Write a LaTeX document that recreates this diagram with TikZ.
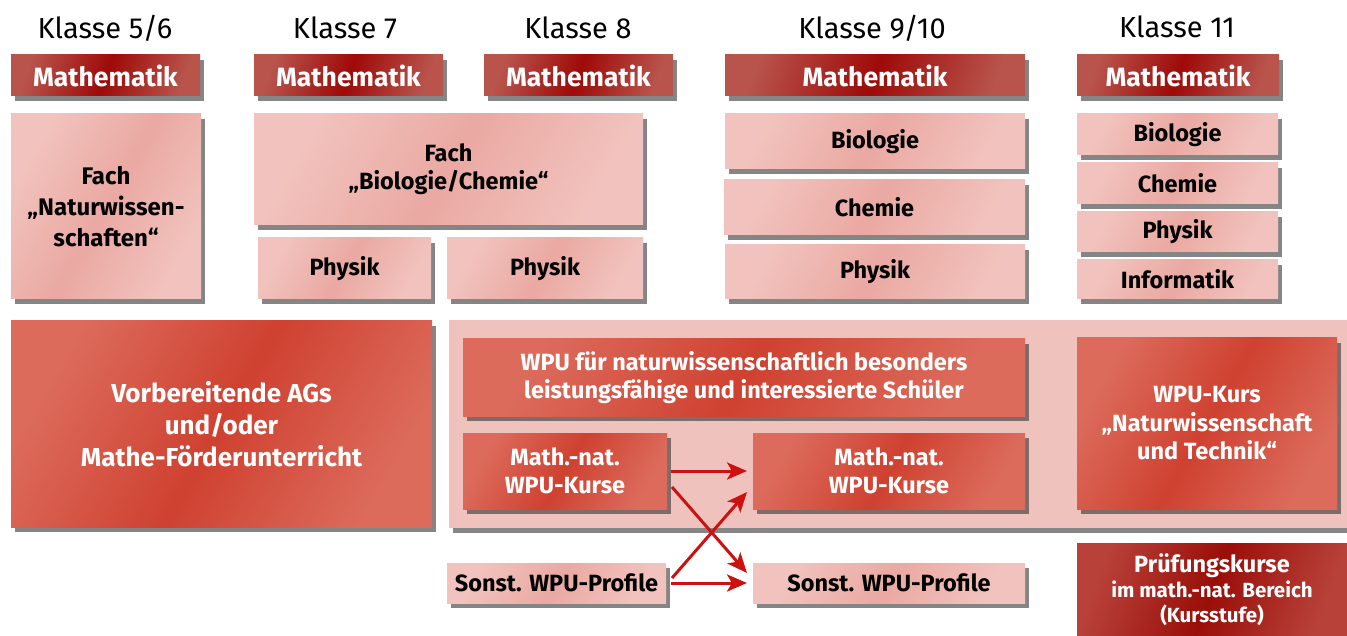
\documentclass[tikz,border=0pt]{standalone}
\usepackage{fontspec}
\setmainfont{Fira Sans}
\usetikzlibrary{shadows,arrows.meta}
\definecolor{mEdge}{HTML}{B8544C}
\definecolor{mMid}{HTML}{9E0A08}
\definecolor{pEdge}{HTML}{F2C3BE}
\definecolor{pMid}{HTML}{EAA9A2}
\definecolor{rEdge}{HTML}{DC6B5C}
\definecolor{rMid}{HTML}{CF4130}
\definecolor{bgPink}{HTML}{F0C2BD}
\definecolor{arrRed}{HTML}{CC1111}
\definecolor{dEdge}{HTML}{B8413A}
\definecolor{dMid}{HTML}{9A0E08}
\begin{document}
\begin{tikzpicture}[x=1pt,y=-1pt,
  head/.style={font=\fontsize{29}{32}\selectfont, inner sep=0pt},
  box/.style={rectangle, inner sep=0pt, outer sep=0pt, align=center,
    font=\bfseries\fontsize{23.5}{28}\selectfont,
    drop shadow={shadow xshift=4pt, shadow yshift=-5pt, fill=black!80, opacity=0.6}},
  mathbox/.style={box, left color=mEdge, right color=mEdge, middle color=mMid, shading angle=70,
    text=white, font=\bfseries\fontsize{26.5}{30}\selectfont, minimum height=41pt},
  pinkbox/.style={box, left color=pEdge, right color=pEdge, middle color=pMid, shading angle=60, text=black},
  redbox/.style={box, left color=rEdge, right color=rEdge, middle color=rMid, shading angle=60, text=white},
  darkbox/.style={box, left color=dEdge, right color=dEdge, middle color=dMid, shading angle=70, text=white},
  bgbox/.style={box, fill=bgPink},
  arr/.style={draw=arrRed, line width=3pt, -{Stealth[length=20pt,width=17pt,inset=5pt]}}
]
\useasboundingbox (0,0) rectangle (1347,636);

% headers
\node[head] (k56) at (105,28) {Klasse 5/6};
\node[head] (k7)  at (345,28) {Klasse 7};
\node[head] (k8)  at (578,28) {Klasse 8};
\node[head] (k910) at (872,28) {Klasse 9/10};
\node[head] (k11) at (1177,27) {Klasse 11};

% Mathematik
\node[mathbox, minimum width=189pt] (m1) at (105.5,75.5) {Mathematik};
\node[mathbox, minimum width=189pt] (m2) at (348.5,75.5) {Mathematik};
\node[mathbox, minimum width=189pt] (m3) at (578.5,75.5) {Mathematik};
\node[mathbox, minimum width=300pt] (m4) at (875,75.5) {Mathematik};
\node[mathbox, minimum width=202pt] (m5) at (1178,75.5) {Mathematik};

% row 2
\node[pinkbox, minimum width=190pt, minimum height=185pt, font=\bfseries\fontsize{24}{31}\selectfont] (nw) at (106,206.5) {Fach\\„Naturwissen-\\schaften“};
\node[pinkbox, minimum width=389pt, minimum height=111pt] (bc) at (448.5,169.5) {Fach\\„Biologie/Chemie“};
\node[pinkbox, minimum width=173pt, minimum height=61pt] (ph7) at (344.5,268.5) {Physik};
\node[pinkbox, minimum width=196pt, minimum height=61pt] (ph8) at (545,268.5) {Physik};
\node[pinkbox, minimum width=300pt, minimum height=55pt] (bio9) at (875,141.5) {Biologie};
\node[pinkbox, minimum width=301pt, minimum height=55pt] (ch9) at (874.5,207.5) {Chemie};
\node[pinkbox, minimum width=300pt, minimum height=54pt] (ph9) at (875,272) {Physik};
\node[pinkbox, minimum width=201pt, minimum height=41pt] (bio11) at (1177.5,134.5) {Biologie};
\node[pinkbox, minimum width=201pt, minimum height=41pt] (ch11) at (1177.5,183.5) {Chemie};
\node[pinkbox, minimum width=201pt, minimum height=40pt] (ph11) at (1177.5,232) {Physik};
\node[pinkbox, minimum width=201pt, minimum height=39pt] (inf11) at (1177.5,279.5) {Informatik};

% row 3
\node[redbox, minimum width=421pt, minimum height=206pt, font=\bfseries\fontsize{26}{32}\selectfont] (ag) at (221.5,424) {Vorbereitende AGs\\und/oder\\Mathe-Förderunterricht};
\node[bgbox, minimum width=898pt, minimum height=207pt] (bg) at (898,424) {};
\node[redbox, minimum width=562pt, minimum height=77pt] (wpu) at (744,377.5) {WPU für naturwissenschaftlich besonders\\leistungsfähige und interessierte Schüler};
\node[redbox, minimum width=204pt, minimum height=76pt] (mn1) at (565,471) {Math.-nat.\\WPU-Kurse};
\node[redbox, minimum width=272pt, minimum height=76pt] (mn2) at (889,471) {Math.-nat.\\WPU-Kurse};
\node[redbox, minimum width=260pt, minimum height=171pt, font=\bfseries\fontsize{23.5}{28.5}\selectfont] (nut) at (1207,423.5) {WPU-Kurs\\„Naturwissenschaft\\und Technik“};
\node[pinkbox, minimum width=219pt, minimum height=40pt] (sp1) at (556.5,583) {Sonst. WPU-Profile};
\node[pinkbox, minimum width=272pt, minimum height=40pt] (sp2) at (889,583) {Sonst. WPU-Profile};
\node[darkbox, minimum width=270pt, minimum height=93pt] (pk) at (1212,589.5) {Prüfungskurse\\[-3pt]{\fontsize{20.5}{24}\selectfont im math.-nat. Bereich}\\[-3pt]{\fontsize{20.5}{24}\selectfont (Kursstufe)}};

% arrows
\draw[arr] ([xshift=4pt]mn1.east) -- ([xshift=-6pt]mn2.west);
\draw[arr] ([xshift=5pt,yshift=-16pt]mn1.east) -- ([xshift=-6pt,yshift=10pt]sp2.west);
\draw[arr] ([xshift=6pt,yshift=5pt]sp1.east) -- ([xshift=-6pt,yshift=-21pt]mn2.west);
\draw[arr] ([xshift=5pt]sp1.east) -- ([xshift=-6pt]sp2.west);
\end{tikzpicture}
\end{document}
